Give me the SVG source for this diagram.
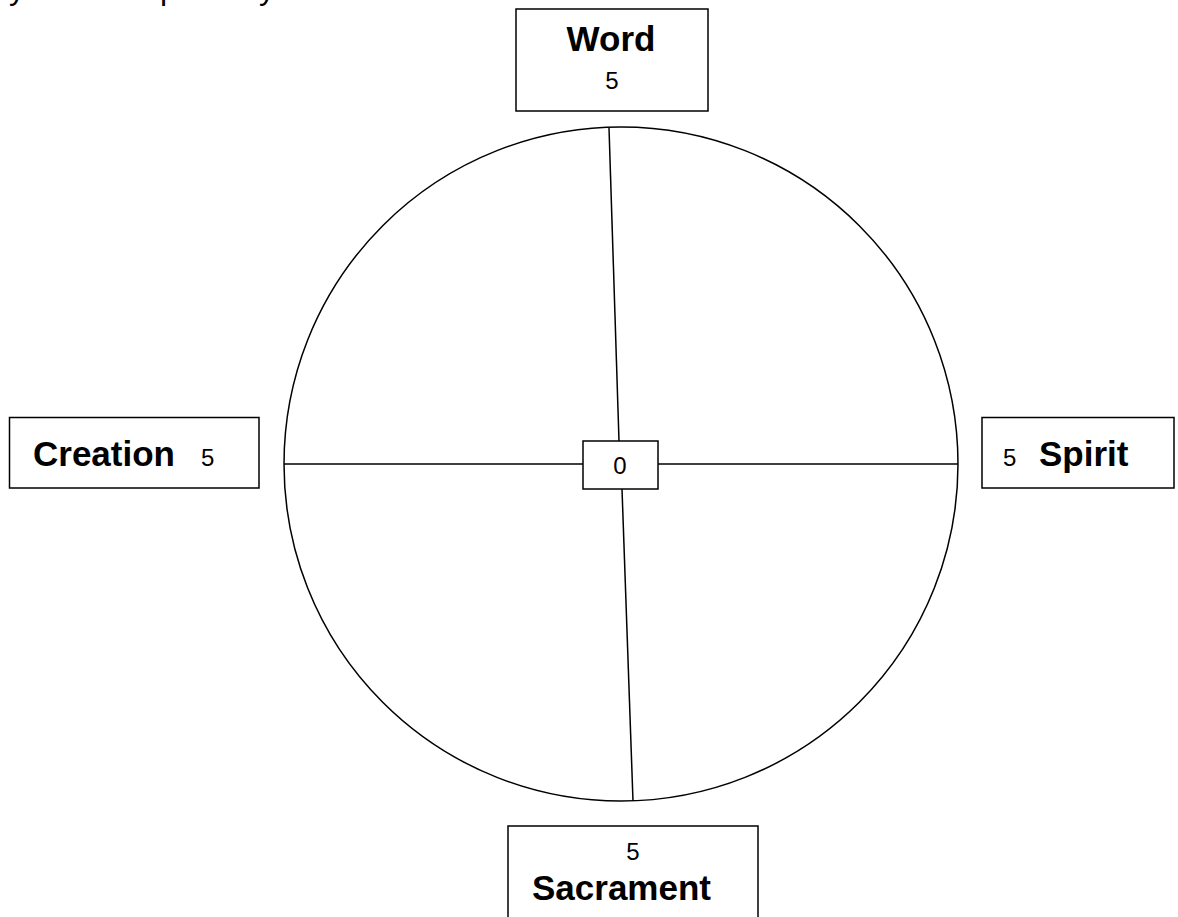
<svg xmlns="http://www.w3.org/2000/svg" width="1178" height="917" viewBox="0 0 1178 917">
<style>
.box{fill:#fff;stroke:#000;stroke-width:1.5}
.ln{stroke:#000;stroke-width:1.5;fill:none}
.lbl{font-family:"Liberation Sans",Arial,sans-serif;font-weight:bold;font-size:35px;fill:#000}
.num{font-family:"Liberation Sans",Arial,sans-serif;font-size:24px;fill:#000}
.frag{font-family:"Liberation Sans",Arial,sans-serif;font-size:32px;fill:#000}
</style>
<rect width="1178" height="917" fill="#fff"/>
<g id="clipped-text">
<text class="frag" x="9" y="-1">y</text>
<text class="frag" x="160" y="-1">p</text>
<text class="frag" x="259" y="-1">y</text>
</g>
<g id="wheel">
<circle class="ln" cx="621" cy="464" r="337"/>
</g>
<g id="connectors">
<line class="ln" x1="609" y1="128" x2="619" y2="441"/>
<line class="ln" x1="622" y1="489" x2="633" y2="801"/>
<line class="ln" x1="284" y1="464" x2="583" y2="464"/>
<line class="ln" x1="658" y1="464" x2="958" y2="464"/>
</g>
<g id="word">
<rect class="box" x="516" y="9" width="192" height="102"/>
<text class="lbl" x="611" y="51" text-anchor="middle">Word</text>
<text class="num" x="612" y="89" text-anchor="middle">5</text>
</g>
<g id="creation">
<rect class="box" x="9.5" y="417.5" width="249.5" height="70.5"/>
<text class="lbl" x="33" y="466">Creation</text>
<text class="num" x="201" y="466">5</text>
</g>
<g id="spirit">
<rect class="box" x="982" y="417.5" width="192" height="70.5"/>
<text class="num" x="1003" y="466">5</text>
<text class="lbl" x="1039" y="466">Spirit</text>
</g>
<g id="center">
<rect class="box" x="583" y="441" width="75" height="48"/>
<text class="num" x="620" y="474" text-anchor="middle">0</text>
</g>
<g id="sacrament">
<rect class="box" x="508" y="826" width="250" height="100"/>
<text class="num" x="633" y="860" text-anchor="middle">5</text>
<text class="lbl" x="532" y="900">Sacrament</text>
</g>
</svg>
